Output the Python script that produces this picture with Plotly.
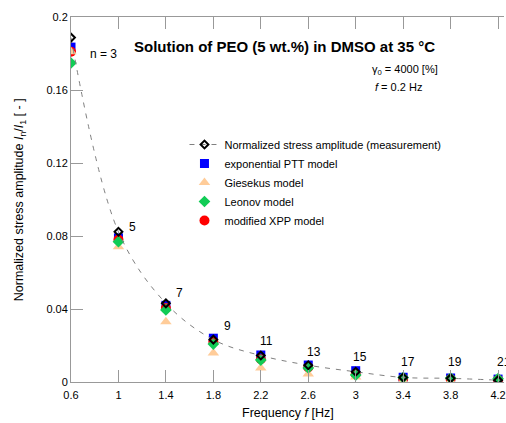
import plotly.graph_objects as go

freq = [0.6, 1.0, 1.4, 1.8, 2.2, 2.6, 3.0, 3.4, 3.8, 4.2]
harmonic_labels = ["n = 3", "5", "7", "9", "11", "13", "15", "17", "19", "21"]
label_x = [0.743, 1.12, 1.518, 1.917, 2.244, 2.65, 3.037, 3.438, 3.84, 4.25]
label_y = [0.180, 0.0851, 0.0486, 0.0307, 0.0226, 0.0166, 0.0135, 0.0111, 0.0111, 0.0111]

measurement = [0.1887, 0.0823, 0.0431, 0.0232, 0.0145, 0.0092, 0.0056, 0.0025, 0.0020, 0.0010]
ptt = [0.1835, 0.0790, 0.0420, 0.0240, 0.0148, 0.0093, 0.0062, 0.0026, 0.0022, 0.0016]
giesekus = [0.1810, 0.0741, 0.0330, 0.0159, 0.0077, 0.0044, 0.0027, 0.0007, 0.0006, 0.0004]
leonov = [0.1748, 0.0769, 0.0395, 0.0208, 0.0120, 0.0077, 0.0038, 0.0024, 0.0022, 0.0018]
xpp = [0.1810, 0.0780, 0.0405, 0.0220, 0.0125, 0.0080, 0.0042, 0.0018, 0.0016, 0.0012]

x_ticks = [0.6, 1, 1.4, 1.8, 2.2, 2.6, 3, 3.4, 3.8, 4.2]
x_ticktext = ["0.6", "1", "1.4", "1.8", "2.2", "2.6", "3", "3.4", "3.8", "4.2"]
y_ticks = [0, 0.04, 0.08, 0.12, 0.16, 0.2]
y_ticktext = ["0", "0.04", "0.08", "0.12", "0.16", "0.2"]

FONT = "Arial, Liberation Sans, sans-serif"
AXC = "#999999"

fig = go.Figure()
fig.add_trace(go.Scatter(
    x=freq, y=ptt, mode="markers", name="exponential PTT model", legendrank=2,
    marker=dict(symbol="square", size=9, color="#0000FF")))
fig.add_trace(go.Scatter(
    x=freq, y=xpp, mode="markers", name="modified XPP model", legendrank=5,
    marker=dict(symbol="circle", size=10, color="#FF0000")))
fig.add_trace(go.Scatter(
    x=freq, y=giesekus, mode="markers", name="Giesekus model", legendrank=3,
    marker=dict(symbol="triangle-up", size=10, color="#FFCC99")))
fig.add_trace(go.Scatter(
    x=freq, y=leonov, mode="markers", name="Leonov model", legendrank=4,
    marker=dict(symbol="diamond", size=9, color="#11CC55")))
fig.add_trace(go.Scatter(
    x=freq, y=measurement, mode="lines+markers", name="Normalized stress amplitude (measurement)",
    legendrank=1, line=dict(color="#808080", width=1, dash="5px,6px", shape="spline"),
    marker=dict(symbol="diamond-open", size=6, color="black", line=dict(width=2, color="black"))))

for lx, ly, lt in zip(label_x, label_y, harmonic_labels):
    fig.add_annotation(x=lx, y=ly, text=lt, showarrow=False, xanchor="left" if lt.startswith("n") else "center",
                       yanchor="middle", font=dict(size=12, color="black", family=FONT))

fig.add_annotation(xref="paper", yref="paper", x=(285.5 - 71) / 435, y=(382 - 46) / 365,
                   text="<b>Solution of PEO (5 wt.%) in DMSO at 35 °C</b>", showarrow=False,
                   xanchor="center", yanchor="middle", font=dict(size=15, color="black", family=FONT))
fig.add_annotation(xref="paper", yref="paper", x=(371 - 71) / 435, y=(382 - 70) / 365,
                   text="γ<sub>0</sub> = 4000 [%]", showarrow=False,
                   xanchor="left", yanchor="middle", font=dict(size=11, color="black", family=FONT))
fig.add_annotation(xref="paper", yref="paper", x=(374 - 71) / 435, y=(382 - 87) / 365,
                   text="<i>f</i> = 0.2 Hz", showarrow=False,
                   xanchor="left", yanchor="middle", font=dict(size=11, color="black", family=FONT))
fig.add_annotation(xref="paper", yref="paper", x=(20 - 71) / 435, y=(382 - 200) / 365, textangle=-90,
                   text="Normalized stress amplitude <i>I</i><sub>n</sub>/<i>I</i><sub>1</sub> [ - ]",
                   showarrow=False, xanchor="center", yanchor="middle",
                   font=dict(size=12.5, color="black", family=FONT))
fig.add_annotation(xref="paper", yref="paper", x=0.5, y=-(413 - 382) / 365,
                   text="Frequency <i>f</i> [Hz]", showarrow=False, xanchor="center", yanchor="middle",
                   font=dict(size=12.5, color="black", family=FONT))

fig.update_xaxes(range=[0.6, 4.25], tickvals=x_ticks, ticktext=x_ticktext,
                 showgrid=False, zeroline=False, showline=True, linecolor=AXC, linewidth=1,
                 mirror="ticks", ticks="inside", ticklen=12, tickcolor=AXC,
                 ticklabeloverflow="allow", ticklabelstandoff=3,
                 tickfont=dict(size=11, color="black", family=FONT))
fig.update_layout(
    yaxis=dict(range=[0, 0.2], tickvals=y_ticks, ticktext=y_ticktext,
               showgrid=False, zeroline=False, showline=True, linecolor=AXC, linewidth=1,
               mirror=False, ticks="inside", ticklen=12, tickcolor=AXC,
               tickfont=dict(size=11, color="black", family=FONT)),
    yaxis2=dict(range=[0, 0.2], overlaying="y", side="right", matches="y", tickvals=y_ticks,
                showgrid=False, zeroline=False, showline=False, ticks="inside", ticklen=12,
                tickcolor=AXC, showticklabels=False),
)

fig.update_layout(
    width=506, height=423, autosize=False,
    margin=dict(l=71, r=0, t=17, b=41),
    paper_bgcolor="white", plot_bgcolor="white",
    font=dict(family=FONT, color="black"),
    legend=dict(x=(185 - 71) / 435, y=(382 - 130) / 365, xanchor="left", yanchor="top",
                bgcolor="rgba(0,0,0,0)", font=dict(size=11, color="black", family=FONT),
                tracegroupgap=0),
)

fig.write_html("out.html")
